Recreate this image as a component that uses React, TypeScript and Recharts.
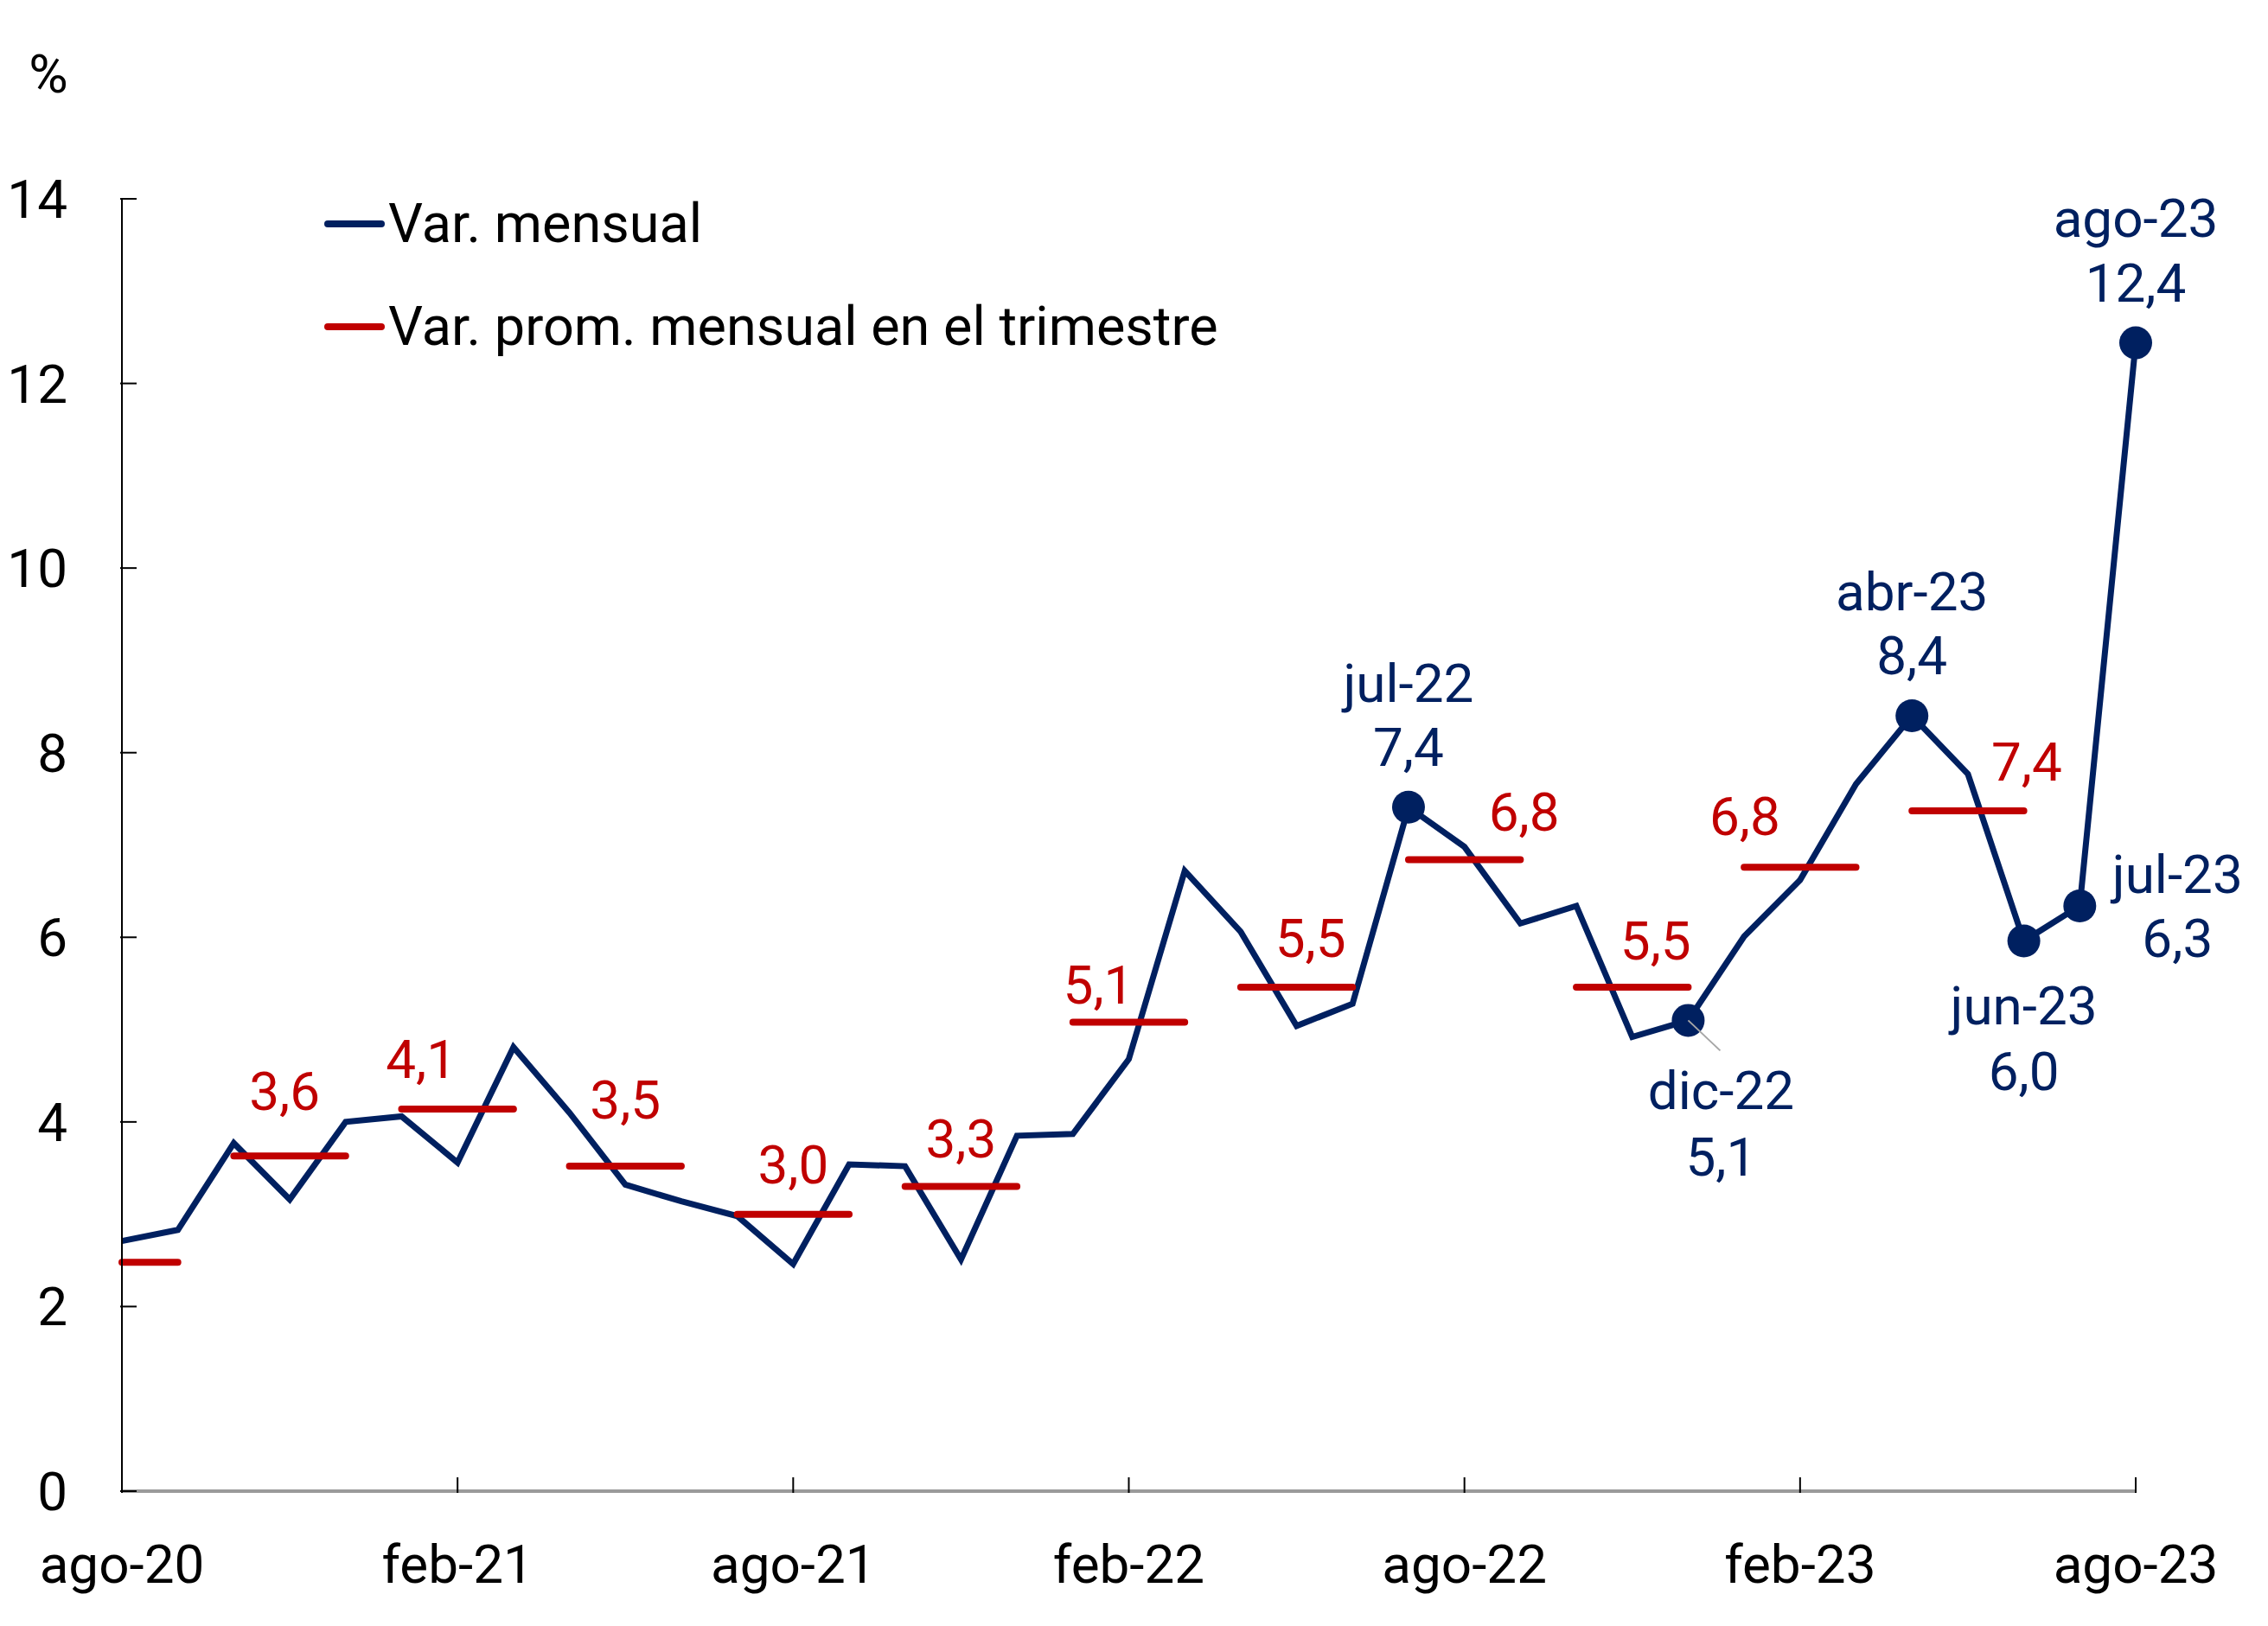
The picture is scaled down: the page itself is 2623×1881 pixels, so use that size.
import { LineChart, Line, XAxis, YAxis, ReferenceLine, LabelList, Legend, Label } from 'recharts'

// Meses (eje X)
const meses = [
  'ago-20', 'sep-20', 'oct-20', 'nov-20', 'dic-20', 'ene-21', 'feb-21', 'mar-21', 'abr-21', 'may-21',
  'jun-21', 'jul-21', 'ago-21', 'sep-21', 'oct-21', 'nov-21', 'dic-21', 'ene-22', 'feb-22', 'mar-22',
  'abr-22', 'may-22', 'jun-22', 'jul-22', 'ago-22', 'sep-22', 'oct-22', 'nov-22', 'dic-22', 'ene-23',
  'feb-23', 'mar-23', 'abr-23', 'may-23', 'jun-23', 'jul-23', 'ago-23',
]

// Var. mensual (%)
const varMensual = [
  2.71, 2.83, 3.77, 3.16, 4.0, 4.06, 3.56, 4.81, 4.1, 3.32,
  3.14, 2.98, 2.46, 3.54, 3.52, 2.51, 3.85, 3.87, 4.68, 6.72,
  6.06, 5.04, 5.28, 7.41, 6.98, 6.15, 6.34, 4.92, 5.1, 6.01,
  6.62, 7.66, 8.4, 7.77, 5.96, 6.34, 12.44,
]

// Var. prom. mensual en el trimestre
const trimInicio = ['ago-20', 'oct-20', 'ene-21', 'abr-21', 'jul-21', 'oct-21', 'ene-22', 'abr-22', 'jul-22', 'oct-22', 'ene-23', 'abr-23']
const trimFin = ['sep-20', 'dic-20', 'mar-21', 'jun-21', 'sep-21', 'dic-21', 'mar-22', 'jun-22', 'sep-22', 'dic-22', 'mar-23', 'jun-23']
const promTrimestral = [2.48, 3.63, 4.14, 3.52, 3.0, 3.3, 5.08, 5.46, 6.84, 5.46, 6.76, 7.37]

const yTicks = [0, 2, 4, 6, 8, 10, 12, 14]
const destacados = ['jul-22', 'dic-22', 'abr-23', 'jun-23', 'jul-23', 'ago-23']
const leyenda = ['Var. mensual', 'Var. prom. mensual en el trimestre']

const AZUL = '#002060'
const ROJO = '#C00000'
const FONT = 'Roboto, "Noto Sans", sans-serif'
const FS = 62

// label placement (px) -- styling only
const destacadoPos: Record<string, { dx: number; dy1: number; dy2: number }> = {
  'jul-22': { dx: 0, dy1: -122, dy2: -48 },
  'dic-22': { dx: 38, dy1: 103, dy2: 180 },
  'abr-23': { dx: 0, dy1: -122, dy2: -48 },
  'jun-23': { dx: 0, dy1: 96, dy2: 172 },
  'jul-23': { dx: 113, dy1: -15, dy2: 59 },
  'ago-23': { dx: 0, dy1: -123, dy2: -48 },
}
const promLabelPos = [
  null,
  { dx: -6, dy: -75 },
  { dx: -42, dy: -58 },
  { dx: 0, dy: -77 },
  { dx: 0, dy: -58 },
  { dx: 0, dy: -56 },
  { dx: -35, dy: -44 },
  { dx: 16, dy: -57 },
  { dx: 69, dy: -56 },
  { dx: 27, dy: -54 },
  { dx: -64, dy: -59 },
  { dx: 68, dy: -57 },
]

const fmt = (v: number) => v.toFixed(1).replace('.', ',')

const quarterRange = trimInicio.map((ini, q) => [meses.indexOf(ini), meses.indexOf(trimFin[q])])

const data = meses.map((mes, i) => {
  const row: any = { mes, mensual: varMensual[i] }
  quarterRange.forEach(([a, b], q) => {
    if (i >= a && i <= b) row[q % 2 === 0 ? 'promA' : 'promB'] = promTrimestral[q]
  })
  return row
})

function YTick({ x, y, payload }: any) {
  return (
    <g>
      <line x1={x} x2={x + 19} y1={y} y2={y} stroke="#000" strokeWidth={2} />
      <text x={x - 61} y={y + 22} textAnchor="end" fontFamily={FONT} fontSize={FS} fill="#000">
        {payload.value}
      </text>
    </g>
  )
}

function XTick({ x, y, payload }: any) {
  return (
    <g>
      <line x1={x} x2={x} y1={y} y2={y - 18} stroke="#000" strokeWidth={2} />
      <text x={x} y={y + 104} textAnchor="middle" fontFamily={FONT} fontSize={FS} fill="#000">
        {payload.value}
      </text>
    </g>
  )
}

function MensualDot(props: any) {
  const { cx, cy, payload, index } = props
  if (!destacados.includes(payload.mes)) return <g key={index} />
  return <circle key={index} cx={cx} cy={cy} r={19} fill={AZUL} />
}

function MensualLabel(props: any) {
  const { x, y, index } = props
  const mes = meses[index]
  const pos = destacadoPos[mes]
  if (!pos) return null
  return (
    <g>
      {mes === 'dic-22' && (
        <line x1={x} y1={y} x2={x + 37} y2={y + 35} stroke="#A6A6A6" strokeWidth={2} />
      )}
      <text textAnchor="middle" fontFamily={FONT} fontSize={FS} fill={AZUL}>
        <tspan x={x + pos.dx} y={y + pos.dy1}>{mes}</tspan>
        <tspan x={x + pos.dx} y={y + pos.dy2}>{fmt(varMensual[index])}</tspan>
      </text>
    </g>
  )
}

function PromLabel(props: any) {
  const { x, y, index } = props
  const q = quarterRange.findIndex(([a, b]) => index === Math.round((a + b) / 2) && b - a === 2)
  if (q < 0 || !promLabelPos[q]) return null
  const pos = promLabelPos[q]!
  return (
    <text x={x + pos.dx} y={y + pos.dy + 22} textAnchor="middle" fontFamily={FONT} fontSize={FS} fill={ROJO}>
      {fmt(promTrimestral[q])}
    </text>
  )
}

function LegendBox() {
  const colors = [AZUL, ROJO]
  return (
    <div style={{ fontFamily: FONT, fontSize: 63 }}>
      {leyenda.map((name, i) => (
        <div key={name} style={{ display: 'flex', alignItems: 'center', height: 119, lineHeight: '119px', whiteSpace: 'nowrap' }}>
          <div style={{ width: 70, height: 8, borderRadius: 4, background: colors[i], marginRight: 4 }} />
          <span style={{ color: '#000' }}>{name}</span>
        </div>
      ))}
    </div>
  )
}

export default function App() {
  return (
    <div style={{ position: 'absolute', left: 0, top: 0, background: '#fff' }}>
      <LineChart width={2623} height={1881} data={data} margin={{ top: 230, right: 153, left: 81, bottom: 126 }}>
        <XAxis
          dataKey="mes"
          interval={5}
          tickSize={0}
          tickLine={false}
          axisLine={{ stroke: '#9a9a9a', strokeWidth: 4 }}
          tick={<XTick />}
          height={30}
        />
        <YAxis
          domain={[0, 14]}
          ticks={yTicks}
          tickSize={0}
          tickLine={false}
          axisLine={{ stroke: '#000', strokeWidth: 2 }}
          tick={<YTick />}
          width={60}
          allowDataOverflow
        >
          <Label
            content={(p: any) => {
              const vb = p.viewBox || {}
              return (
                <text x={vb.x + vb.width - 85} y={vb.y - 123} textAnchor="middle" fontFamily={FONT} fontSize={FS} fill="#000">
                  %
                </text>
              )
            }}
          />
        </YAxis>
        <ReferenceLine y={0} stroke="#000" strokeWidth={2} strokeDasharray="9 5" />
        <Legend
          verticalAlign="middle"
          align="center"
          layout="horizontal"
          wrapperStyle={{ left: 375, top: 199, width: 1200 }}
          content={() => <LegendBox />}
        />
        <Line
          dataKey="mensual"
          stroke={AZUL}
          strokeWidth={7}
          dot={MensualDot}
          activeDot={false}
          isAnimationActive={false}
        >
          <LabelList dataKey="mensual" content={MensualLabel} />
        </Line>
        <Line
          dataKey="promA"
          stroke={ROJO}
          strokeWidth={8}
          strokeLinecap="round"
          dot={false}
          activeDot={false}
          connectNulls={false}
          isAnimationActive={false}
        >
          <LabelList dataKey="promA" content={PromLabel} />
        </Line>
        <Line
          dataKey="promB"
          stroke={ROJO}
          strokeWidth={8}
          strokeLinecap="round"
          dot={false}
          activeDot={false}
          connectNulls={false}
          isAnimationActive={false}
        >
          <LabelList dataKey="promB" content={PromLabel} />
        </Line>
      </LineChart>
    </div>
  )
}
